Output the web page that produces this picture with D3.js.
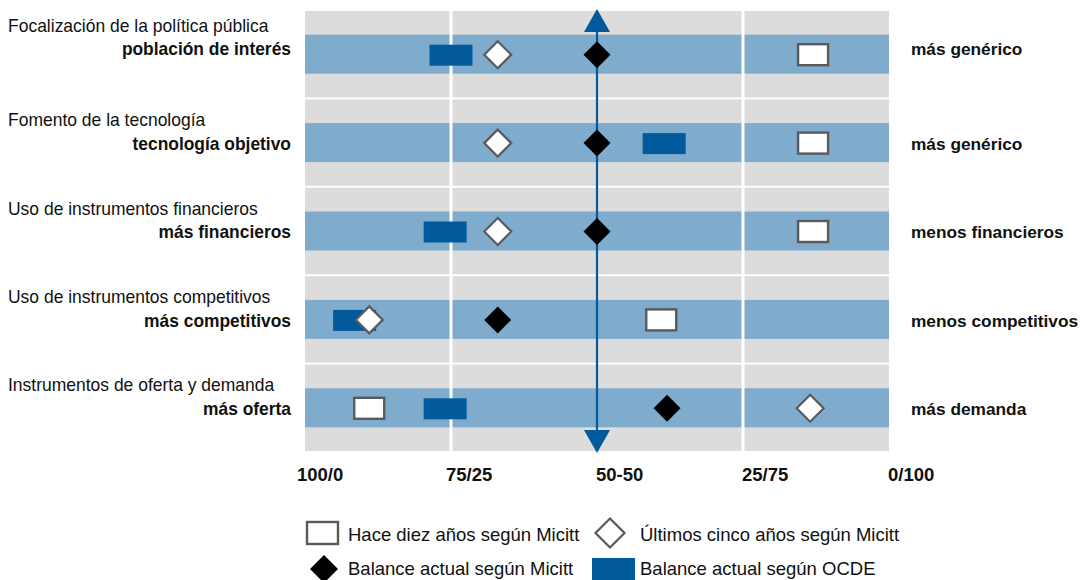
<!DOCTYPE html>
<html><head><meta charset="utf-8">
<script src="https://cdn.jsdelivr.net/npm/d3@7"></script>
<style>
html,body{margin:0;padding:0;background:#fff;}
svg text{font-family:"Liberation Sans Narrow","Arial Narrow","Liberation Sans",sans-serif;fill:#111;}
</style></head>
<body><svg id="c" width="1082" height="580"></svg>
<script>
const categories = ["Focalización de la política pública","Fomento de la tecnología","Uso de instrumentos financieros","Uso de instrumentos competitivos","Instrumentos de oferta y demanda"];
const leftLabels = ["población de interés","tecnología objetivo","más financieros","más competitivos","más oferta"];
const rightLabels = ["más genérico","más genérico","menos financieros","menos competitivos","más demanda"];
const haceDiez = [87, 87, 87, 61, 11];
const ultimosCinco = [33, 33, 33, 11, 86.5];
const balanceMicitt = [50, 50, 50, 33, 62];
const balanceOCDE = [25, 61.5, 24, 8.5, 24];
const tickValues = [0, 25, 50, 75, 100];
const tickLabels = ["100/0","75/25","50-50","25/75","0/100"];
const legendLabels = ["Hace diez años según Micitt","Últimos cinco años según Micitt","Balance actual según Micitt","Balance actual según OCDE"];

const svg = d3.select("#c");
const x = d3.scaleLinear().domain([0,100]).range([305, 889]);
const y = d3.scaleBand().domain(categories).range([10, 452]);
const bw = y.bandwidth();
const cy = c => y(c) + bw/2;

const GRAY="#dcdcdc", LBLUE="#7fabcd", DBLUE="#005a9c", STROKE="#5a5a5a";

// bands
const g = svg.append("g");
g.selectAll("rect.band").data(categories).join("rect")
  .attr("x", x(0)).attr("width", x(100)-x(0))
  .attr("y", c => y(c)+1).attr("height", bw-2).attr("fill", GRAY);
g.selectAll("rect.strip").data(categories).join("rect")
  .attr("x", x(0)).attr("width", x(100)-x(0))
  .attr("y", c => cy(c)-19.5).attr("height", 39).attr("fill", LBLUE);

// white vertical grid
g.selectAll("line.grid").data([25,75]).join("line")
  .attr("x1", d=>x(d)).attr("x2", d=>x(d)).attr("y1", 10).attr("y2", 452)
  .attr("stroke", "#fff").attr("stroke-width", 3);

// central arrow
const xc = x(50);
svg.append("line").attr("x1", xc).attr("x2", xc).attr("y1", 30).attr("y2", 432)
  .attr("stroke", DBLUE).attr("stroke-width", 2.2);
svg.append("path").attr("d", `M${xc},9 L${xc-13},32 L${xc+13},32 Z`).attr("fill", DBLUE);
svg.append("path").attr("d", `M${xc},453 L${xc-13},430 L${xc+13},430 Z`).attr("fill", DBLUE);

// markers
const idx = d3.range(categories.length);
svg.selectAll("rect.ocde").data(idx).join("rect")
  .attr("x", i => x(balanceOCDE[i])-21.5).attr("width", 43)
  .attr("y", i => cy(categories[i])-9.5).attr("height", 21).attr("fill", DBLUE);
const dia = r => `M0,${-r} L${r},0 L0,${r} L${-r},0 Z`;
svg.selectAll("path.ult").data(idx).join("path")
  .attr("d", dia(13.5))
  .attr("transform", i => `translate(${x(ultimosCinco[i])},${cy(categories[i])+0.5})`)
  .attr("fill", "#fff").attr("stroke", STROKE).attr("stroke-width", 2.2);
svg.selectAll("path.bal").data(idx).join("path")
  .attr("d", dia(13.5))
  .attr("transform", i => `translate(${x(balanceMicitt[i])},${cy(categories[i])+0.5})`)
  .attr("fill", "#000");
svg.selectAll("rect.hace").data(idx).join("rect")
  .attr("x", i => x(haceDiez[i])-15).attr("width", 30)
  .attr("y", i => cy(categories[i])-10).attr("height", 21)
  .attr("fill", "#fff").attr("stroke", STROKE).attr("stroke-width", 2.4);

// labels (first row's labels sit a little higher in the original layout)
const titleOff = i => i === 0 ? -22 : -16.5;
const boldOff = i => i === 0 ? 1 : 7.2;
function squeeze(sel, ratio){
  sel.each(function(){
    const w = this.getComputedTextLength();
    d3.select(this).attr("textLength", w*ratio).attr("lengthAdjust","spacingAndGlyphs");
  });
}
svg.selectAll("text.cat").data(idx).join("text").attr("class","cat")
  .attr("x", 8).attr("y", i => cy(categories[i])+titleOff(i)).attr("font-size", 19)
  .text(i=>categories[i]).call(squeeze, 0.92);
svg.selectAll("text.left").data(idx).join("text").attr("class","left")
  .attr("x", 291).attr("y", i => cy(categories[i])+boldOff(i)).attr("text-anchor","end")
  .attr("font-size", 18.5).attr("font-weight","bold").text(i=>leftLabels[i]).call(squeeze, 0.94);
svg.selectAll("text.right").data(idx).join("text").attr("class","right")
  .attr("x", 911).attr("y", i => cy(categories[i])+boldOff(i))
  .attr("font-size", 17.3).attr("font-weight","bold").text(i=>rightLabels[i]);

// axis tick labels
svg.selectAll("text.tick").data(tickValues).join("text").attr("class","tick")
  .attr("x", (d,i) => x(d) + (i===0 ? -8 : (i===1 ? -5 : -1))).attr("y", 481)
  .attr("font-size", 18.5).attr("font-weight","bold").text((d,i)=>tickLabels[i]);

// legend
const lg = svg.append("g");
lg.append("rect").attr("x", 307).attr("y", 522).attr("width", 31).attr("height", 22)
  .attr("fill","#fff").attr("stroke", STROKE).attr("stroke-width", 2.4);
lg.append("path").attr("d", dia(14.5)).attr("transform","translate(610,533)")
  .attr("fill","#fff").attr("stroke", STROKE).attr("stroke-width", 2.2);
lg.append("path").attr("d", dia(14)).attr("transform","translate(324,569)").attr("fill","#000");
lg.append("rect").attr("x", 592).attr("y", 558).attr("width", 43).attr("height", 22).attr("fill", DBLUE);
const lpos = [[348,541],[640,541],[348,575],[640,575]];
lg.selectAll("text").data(legendLabels).join("text")
  .attr("x",(d,i)=>lpos[i][0]).attr("y",(d,i)=>lpos[i][1]).attr("font-size",18.5).text(d=>d);
</script></body></html>
